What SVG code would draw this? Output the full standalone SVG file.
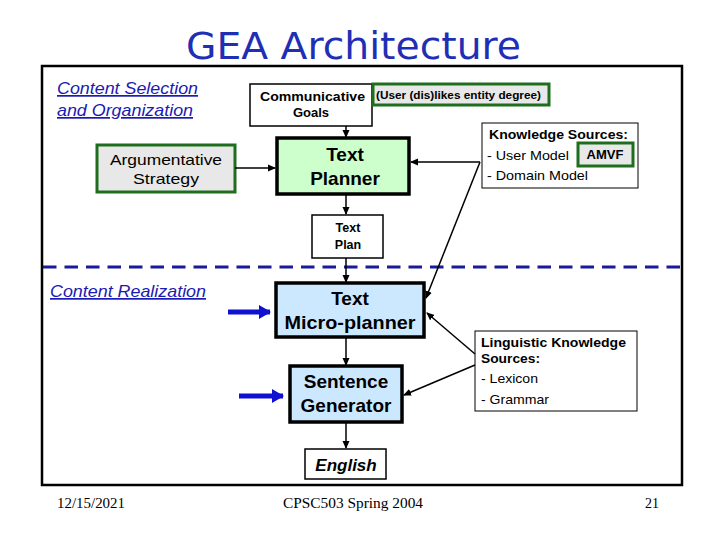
<svg xmlns="http://www.w3.org/2000/svg" width="720" height="540" viewBox="0 0 720 540">
<defs>
<marker id="ah" markerWidth="8" markerHeight="8" refX="7" refY="4" orient="auto" markerUnits="userSpaceOnUse">
<path d="M0,0.5 L8,4 L0,7.5 Z" fill="#000"/>
</marker>
<marker id="bh" markerWidth="12" markerHeight="14" refX="11" refY="7" orient="auto" markerUnits="userSpaceOnUse">
<path d="M0,0 L12,7 L0,14 Z" fill="#1010d0"/>
</marker>
</defs>
<style>
text{font-family:"Liberation Sans",Arial,sans-serif;fill:#000}
.b{font-weight:bold}
.lnk{font-style:italic;fill:#1a1ab4;text-decoration:underline;font-size:17px}
.big{font-weight:bold;font-size:19px}
.c{stroke:#000;stroke-width:1.5;fill:none;marker-end:url(#ah)}
.blue{stroke:#1010d0;stroke-width:5;fill:none;marker-end:url(#bh)}
.foot{font-family:"Liberation Serif","Times New Roman",serif;font-size:14px}
</style>
<rect width="720" height="540" fill="#fff"/>
<text x="186" y="59" textLength="335" lengthAdjust="spacingAndGlyphs" style="font-family:'DejaVu Sans',sans-serif;fill:#1f2fb5" font-size="37">GEA Architecture</text>
<rect id="frame" x="42" y="66" width="640" height="419" fill="none" stroke="#000" stroke-width="2.5"/>
<line x1="43" y1="267" x2="681" y2="267" stroke="#1a1a9a" stroke-width="3" stroke-dasharray="13.5,8"/>

<g id="label-selection">
<text class="lnk" x="57" y="94" textLength="141" lengthAdjust="spacingAndGlyphs">Content Selection</text>
<text class="lnk" x="57" y="116" textLength="136" lengthAdjust="spacingAndGlyphs">and Organization</text>
</g>
<g id="label-realization">
<text class="lnk" x="50" y="297" textLength="156" lengthAdjust="spacingAndGlyphs">Content Realization</text>
</g>

<g id="comm-goals">
<rect x="250" y="84" width="122" height="42" fill="#fff" stroke="#000" stroke-width="1.5"/>
<text class="b" x="260" y="101" font-size="12.5" textLength="105" lengthAdjust="spacingAndGlyphs">Communicative</text>
<text class="b" x="311" y="117" text-anchor="middle" font-size="13">Goals</text>
</g>
<g id="user-likes">
<rect x="373" y="84" width="176" height="21" fill="#e8e8e8" stroke="#1e6e1e" stroke-width="3"/>
<text class="b" x="376" y="99" font-size="11" textLength="165" lengthAdjust="spacingAndGlyphs">(User (dis)likes entity degree)</text>
</g>
<g id="arg-strategy">
<rect x="97" y="145" width="138" height="47" fill="#e8e8e8" stroke="#1e6e1e" stroke-width="3"/>
<text x="110" y="165" font-size="14.5" textLength="112" lengthAdjust="spacingAndGlyphs">Argumentative</text>
<text x="166" y="184" text-anchor="middle" font-size="14.5" textLength="66" lengthAdjust="spacingAndGlyphs">Strategy</text>
</g>
<g id="text-planner">
<rect x="277" y="138" width="132" height="56" fill="#ccffcc" stroke="#000" stroke-width="3.5"/>
<text class="big" x="345" y="161" text-anchor="middle">Text</text>
<text class="big" x="345" y="185" text-anchor="middle">Planner</text>
</g>
<g id="knowledge-sources">
<rect x="482" y="123" width="156" height="65" fill="#fff" stroke="#000" stroke-width="1"/>
<text class="b" x="489" y="139" font-size="13" textLength="139" lengthAdjust="spacingAndGlyphs">Knowledge Sources:</text>
<text x="487" y="160" font-size="13" textLength="82" lengthAdjust="spacingAndGlyphs">- User Model</text>
<text x="487" y="180" font-size="13" textLength="101" lengthAdjust="spacingAndGlyphs">- Domain Model</text>
</g>
<g id="amvf">
<rect x="578" y="143" width="55" height="23" fill="#e8e8e8" stroke="#1e6e1e" stroke-width="3"/>
<text class="b" x="605" y="159" text-anchor="middle" font-size="13">AMVF</text>
</g>
<g id="text-plan">
<rect x="312" y="215" width="71" height="43" fill="#fff" stroke="#000" stroke-width="1.5"/>
<text class="b" x="348" y="232" text-anchor="middle" font-size="12.5">Text</text>
<text class="b" x="348" y="249" text-anchor="middle" font-size="12.5">Plan</text>
</g>
<g id="micro-planner">
<rect x="276" y="283" width="148" height="54" fill="#cce8ff" stroke="#000" stroke-width="3.5"/>
<text class="big" x="350" y="305" text-anchor="middle">Text</text>
<text class="big" x="350" y="329" text-anchor="middle" textLength="131" lengthAdjust="spacingAndGlyphs">Micro-planner</text>
</g>
<g id="ling-knowledge">
<rect x="475" y="331" width="162" height="80" fill="#fff" stroke="#000" stroke-width="1"/>
<text class="b" x="481" y="347" font-size="13" textLength="145" lengthAdjust="spacingAndGlyphs">Linguistic Knowledge</text>
<text class="b" x="481" y="363" font-size="13" textLength="59" lengthAdjust="spacingAndGlyphs">Sources:</text>
<text x="481" y="383" font-size="13" textLength="57" lengthAdjust="spacingAndGlyphs">- Lexicon</text>
<text x="481" y="404" font-size="13" textLength="68" lengthAdjust="spacingAndGlyphs">- Grammar</text>
</g>
<g id="sentence-generator">
<rect x="290" y="366" width="112" height="56" fill="#cce8ff" stroke="#000" stroke-width="3.5"/>
<text class="big" x="346" y="388" text-anchor="middle">Sentence</text>
<text class="big" x="346" y="412" text-anchor="middle">Generator</text>
</g>
<g id="english">
<rect x="305" y="449" width="81" height="30" fill="#fff" stroke="#000" stroke-width="1.5"/>
<text x="346" y="471" text-anchor="middle" font-size="17" font-weight="bold" font-style="italic">English</text>
</g>

<g id="connectors">
<line class="c" x1="346" y1="126" x2="346" y2="137"/>
<line class="c" x1="235" y1="168" x2="275" y2="168"/>
<line class="c" x1="346" y1="195" x2="346" y2="214"/>
<line class="c" x1="346" y1="258" x2="346" y2="282"/>
<line class="c" x1="346" y1="338" x2="346" y2="365"/>
<line class="c" x1="346" y1="423" x2="346" y2="448"/>
<line class="c" x1="480" y1="162" x2="411" y2="162"/>
<line class="c" x1="480" y1="162" x2="426" y2="298"/>
<line class="c" x1="475" y1="354" x2="427" y2="313"/>
<line class="c" x1="475" y1="365" x2="404" y2="395"/>
<line class="blue" x1="228" y1="312" x2="270" y2="312"/>
<line class="blue" x1="239" y1="396" x2="283" y2="396"/>
</g>

<text class="foot" x="57" y="508" textLength="68" lengthAdjust="spacingAndGlyphs">12/15/2021</text>
<text class="foot" x="283" y="508" textLength="140" lengthAdjust="spacingAndGlyphs">CPSC503 Spring 2004</text>
<text class="foot" x="659" y="508" text-anchor="end">21</text>
</svg>
